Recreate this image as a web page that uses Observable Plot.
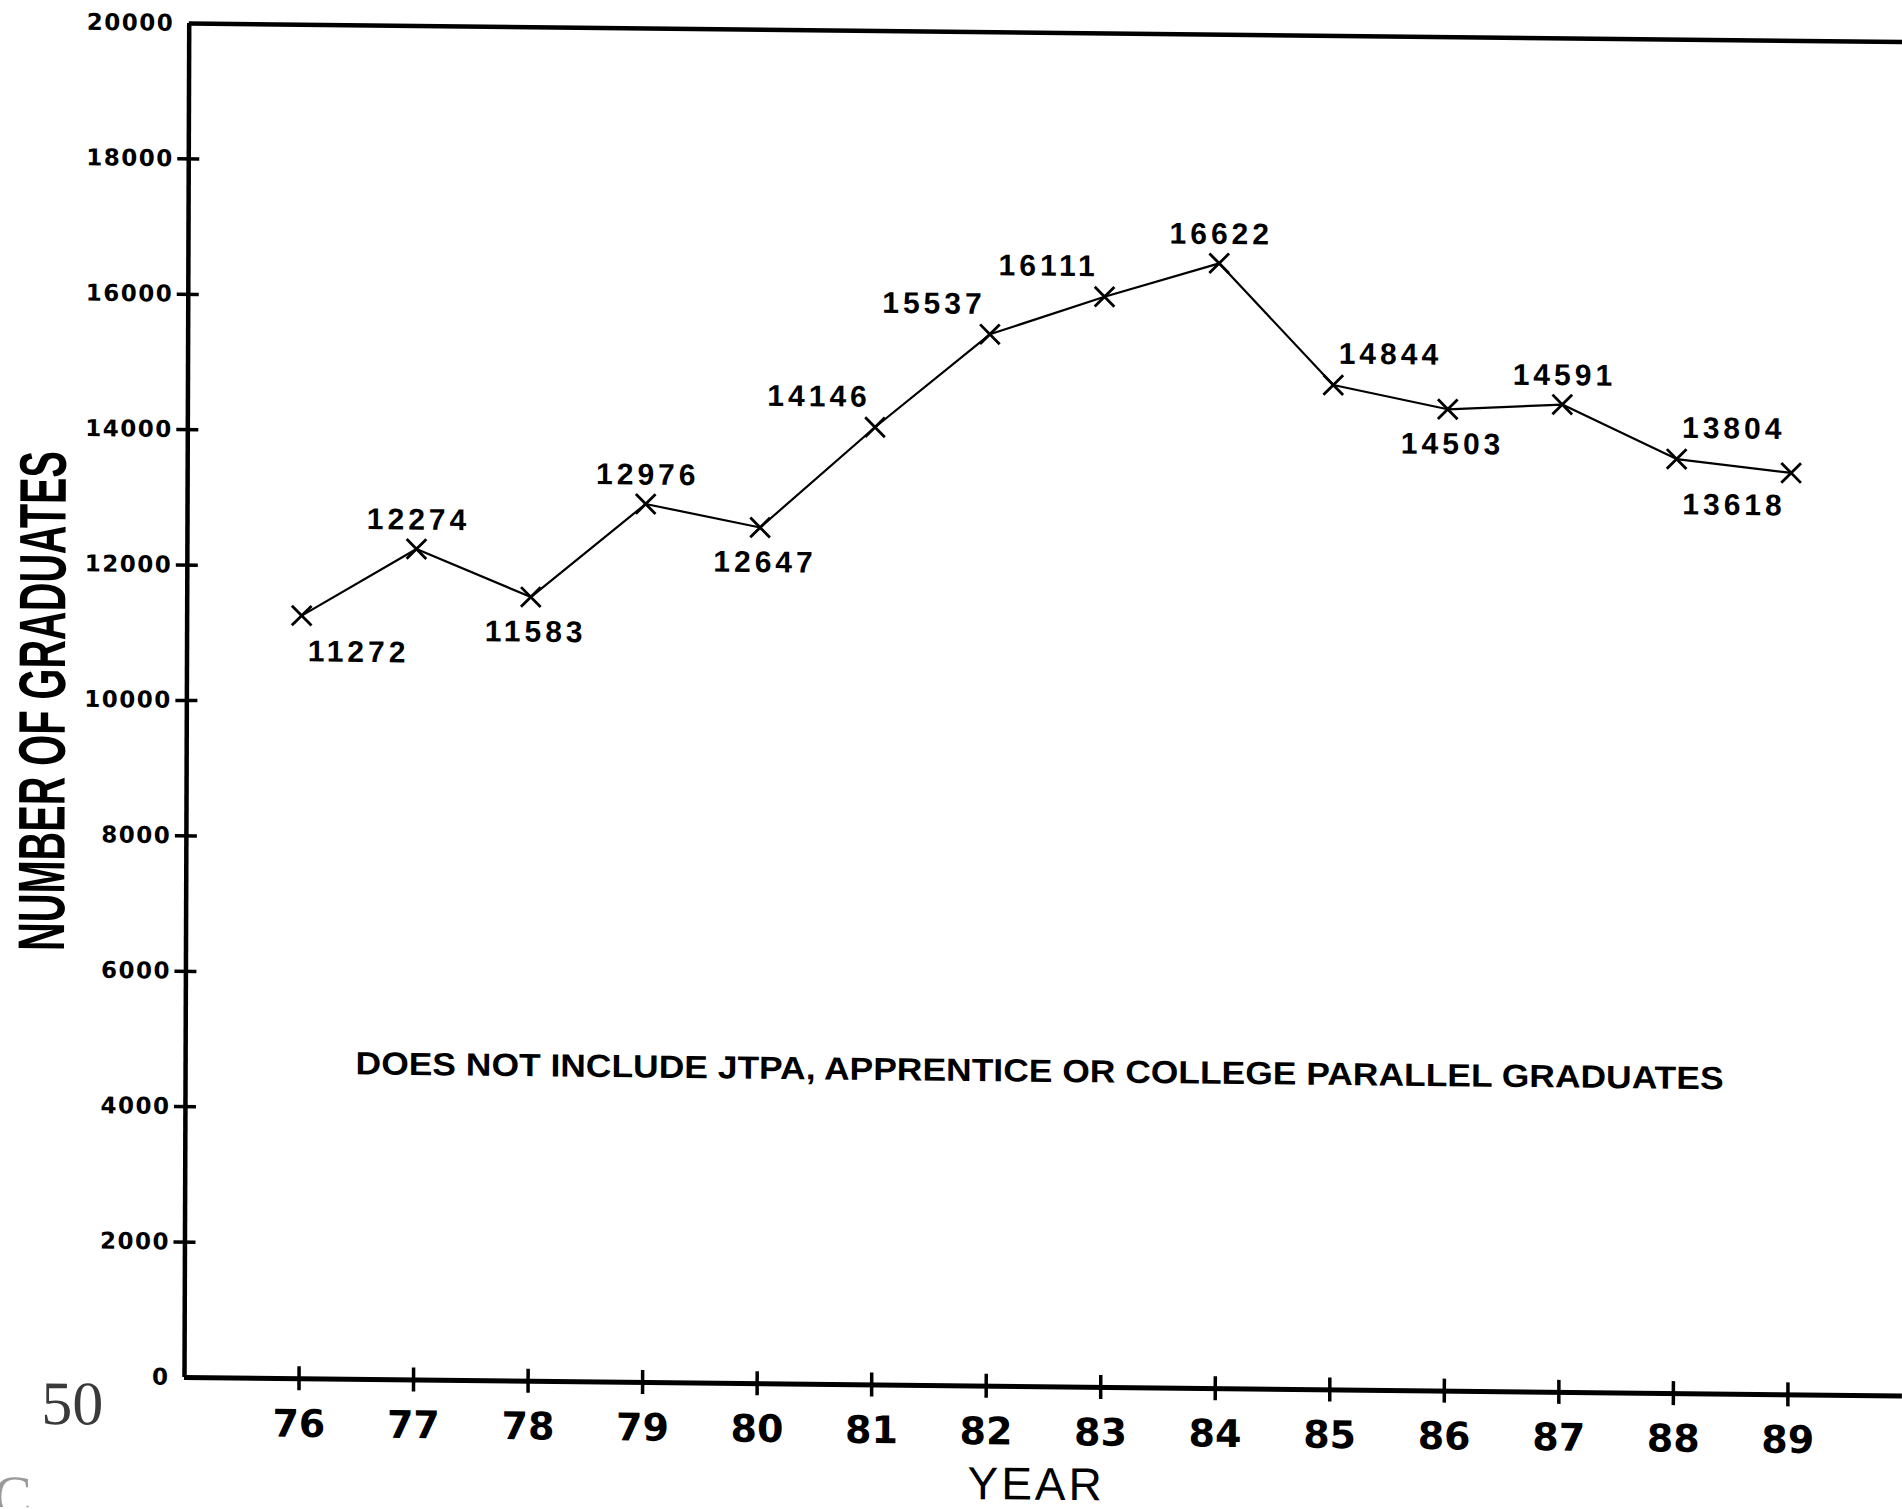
<!DOCTYPE html>
<html>
<head>
<meta charset="utf-8">
<script src="https://cdn.jsdelivr.net/npm/d3@7"></script>
<script src="https://cdn.jsdelivr.net/npm/@observablehq/plot@0.6"></script>
<style>
  html, body { margin: 0; padding: 0; background: #ffffff; }
  #chart { width: 1902px; height: 1509px; overflow: hidden; position: relative; background: #fff; }
</style>
</head>
<body>
<div id="chart"></div>
<script>
// ---- data ----
const years = [76, 77, 78, 79, 80, 81, 82, 83, 84, 85, 86, 87, 88, 89];
const graduates = [11272, 12274, 11583, 12976, 12647, 14146, 15537, 16111, 16622, 14844, 14503, 14591, 13804, 13618];
const yTicks = [0, 2000, 4000, 6000, 8000, 10000, 12000, 14000, 16000, 18000, 20000];
const xTicks = [76, 77, 78, 79, 80, 81, 82, 83, 84, 85, 86, 87, 88, 89];
const yTitle = "NUMBER OF GRADUATES";
const xTitle = "YEAR";
const noteText = "DOES NOT INCLUDE JTPA, APPRENTICE OR COLLEGE PARALLEL GRADUATES";
const pageMarks = ["50"];
const edgeMarks = ["C"];

// ---- layout / style ----
const W = 1902, H = 1509;
const ML = 184, MR = 0, MT = 23, MB = 132;
const frameW = W - ML - MR, frameH = H - MT - MB;

const data = years.map((yr, i) => ({year: yr, value: graduates[i]}));

// label placement relative to each point (style only)
const placement = {
  76: "belowRight", 77: "above", 78: "below", 79: "above", 80: "below",
  81: "aboveLeft", 82: "aboveLeft", 83: "aboveLeft", 84: "above",
  85: "aboveRight", 86: "below", 87: "above", 88: "aboveRight", 89: "belowLeft"
};
const offsets = {
  above: [2, -29], below: [5, 35], aboveLeft: [-56, -30], aboveRight: [57, -31],
  belowRight: [57, 36], belowLeft: [-57, 33]
};
const valueFont = {fontFamily: "Liberation Sans, Arial, sans-serif", fontWeight: "bold", fontSize: 30, fill: "#000"};

const valueMarks = Object.entries(offsets).map(([key, [dx, dy]]) =>
  Plot.text(data.filter(d => placement[d.year] === key), {
    x: "year", y: "value", text: d => String(d.value), dx, dy, ...valueFont
  })
);

const chart = Plot.plot({
  width: W, height: H,
  marginLeft: ML, marginRight: MR, marginTop: MT, marginBottom: MB,
  x: {domain: [75, 90], axis: null},
  y: {domain: [0, 20000], axis: null},
  style: {background: "white", color: "black", overflow: "hidden"},
  marks: [
    // frame lines
    Plot.ruleY([yTicks[0]], {stroke: "#000", strokeWidth: 5}),
    Plot.ruleY([yTicks[yTicks.length - 1]], {stroke: "#000", strokeWidth: 4.5}),
    Plot.ruleX([75], {stroke: "#000", strokeWidth: 4.5}),
    // crossing tick marks
    Plot.tickY(yTicks.slice(1, -1), {y: d => d, insetRight: frameW - 22, dx: -11, stroke: "#000", strokeWidth: 3.5}),
    Plot.tickX(xTicks, {x: d => d, insetTop: frameH - 24, dy: 12, stroke: "#000", strokeWidth: 3.5}),
    // tick labels
    Plot.text(yTicks, {y: d => d, text: d => String(d), frameAnchor: "left", textAnchor: "end", dx: -15,
      fontFamily: "DejaVu Sans, sans-serif", fontWeight: "bold", fontSize: 23, fill: "#000"}),
    Plot.text(xTicks, {x: d => d, text: d => String(d), frameAnchor: "bottom", dy: 58,
      fontFamily: "DejaVu Sans, sans-serif", fontWeight: "bold", fontSize: 38, fill: "#000"}),
    // axis titles
    Plot.text([yTitle], {text: d => d, frameAnchor: "left", rotate: -90, textAnchor: "start", dx: -143, dy: 252,
      fontFamily: "Liberation Sans Narrow, Liberation Sans, sans-serif", fontWeight: "bold", fontSize: 66, fill: "#000"}),
    Plot.text([xTitle], {text: d => d, frameAnchor: "bottom", dx: -7, dy: 113,
      fontFamily: "Liberation Sans, Arial, sans-serif", fontSize: 46, fill: "#000"}),
    // note
    Plot.text([noteText], {text: d => d, frameAnchor: "bottom", dx: -5, dy: -305,
      fontFamily: "Liberation Sans, Arial, sans-serif", fontWeight: "bold", fontSize: 32, fill: "#000"}),
    // the series
    Plot.line(data, {x: "year", y: "value", stroke: "#000", strokeWidth: 2.2}),
    Plot.dot(data, {x: "year", y: "value", symbol: "times", r: 9, stroke: "#000", strokeWidth: 2.8}),
    ...valueMarks,
    // scanned page marks
    Plot.text(pageMarks, {text: d => d, frameAnchor: "bottom-left", dx: -143, dy: 48,
      fontFamily: "Liberation Serif, DejaVu Serif, serif", fontSize: 62, fill: "#3a3a3a"}),
    Plot.text(edgeMarks, {text: d => d, frameAnchor: "bottom-left", dx: -191, dy: 140, textAnchor: "start",
      fontFamily: "Liberation Serif, DejaVu Serif, serif", fontSize: 58, fill: "#9a9a9a"})
  ]
});

const svg = d3.select(chart);
// value labels: letter spacing
svg.selectAll("g[font-size='30'] text").style("letter-spacing", "4px");
// y tick labels: slight letter spacing
svg.selectAll("g[font-size='23'] text").style("letter-spacing", "1.5px");
// condensed titles
svg.selectAll("text").filter(function () { return this.textContent === yTitle; })
  .attr("textLength", 500).attr("lengthAdjust", "spacingAndGlyphs");
svg.selectAll("text").filter(function () { return this.textContent === noteText; })
  .attr("textLength", 1368).attr("lengthAdjust", "spacingAndGlyphs");
svg.selectAll("text").filter(function () { return this.textContent === xTitle; })
  .style("letter-spacing", "3px");

// the scanned page is slightly skewed
chart.style.transformOrigin = ML + "px " + (H - MB) + "px";
chart.style.transform = "skewX(-0.2deg) skewY(0.62deg)";
document.getElementById("chart").appendChild(chart);
</script>
</body>
</html>
